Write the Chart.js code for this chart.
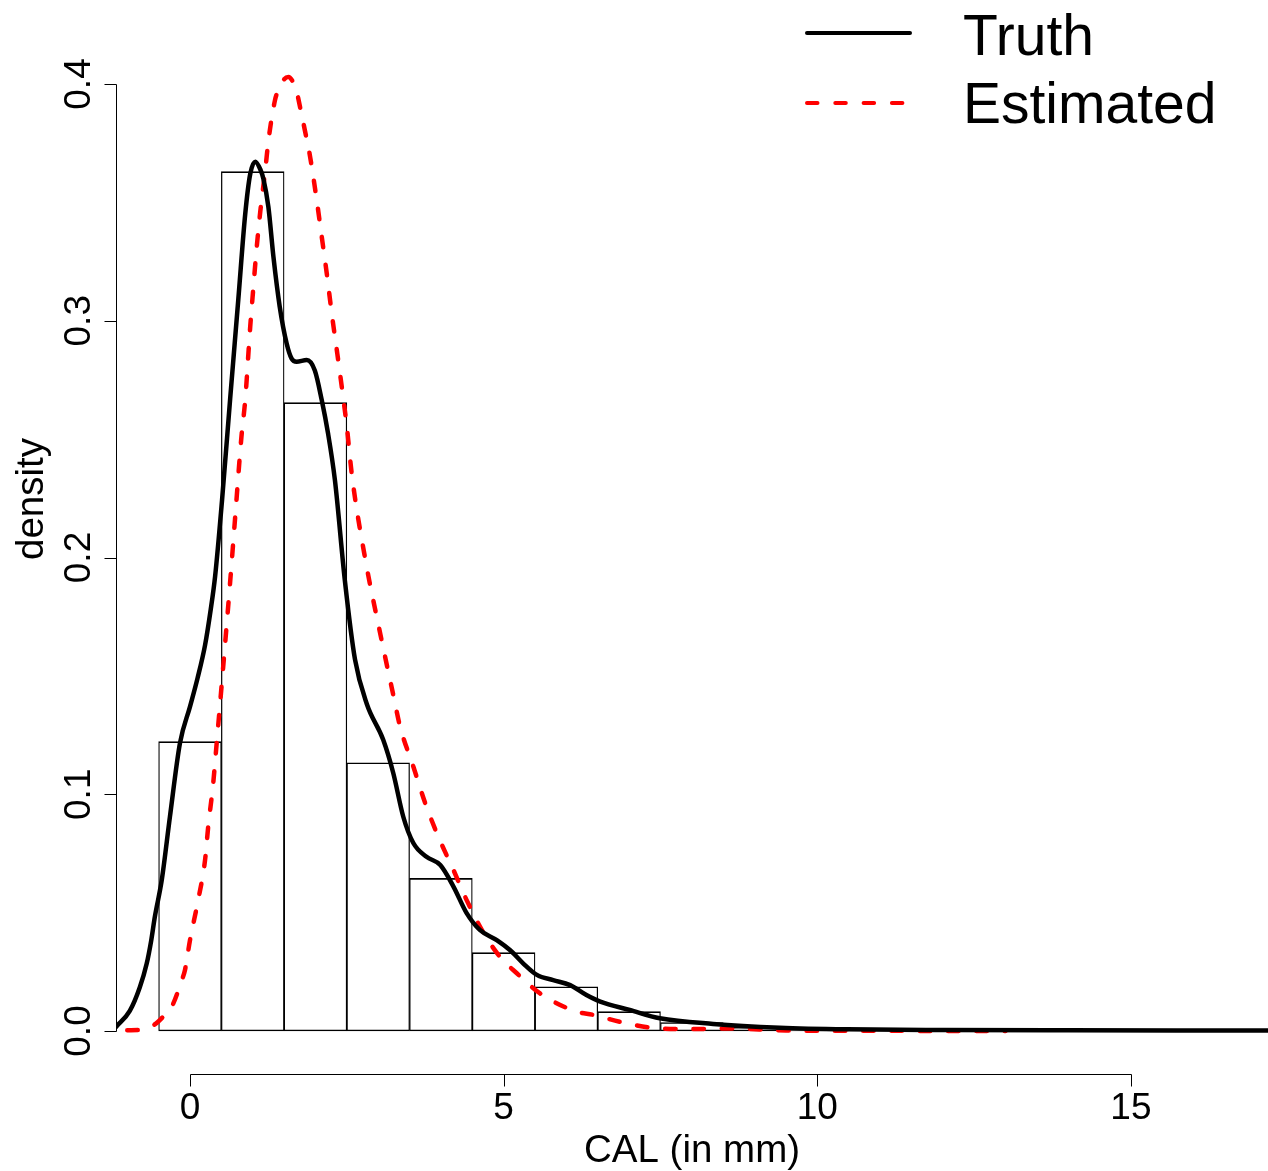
<!DOCTYPE html>
<html><head><meta charset="utf-8">
<script src="https://cdn.jsdelivr.net/npm/chart.js@4"></script>
<style>html,body{margin:0;padding:0;background:#fff;} canvas{display:block;}</style>
</head><body>
<canvas id="c" width="1268" height="1171" style="width:1268px;height:1171px"></canvas>
<script>
// ---- data ----
const binCenters = [0, 1, 2, 3, 4, 5, 6, 7, 8, 9, 10];
const binDensity = [0.1222, 0.3630, 0.2654, 0.1133, 0.0645, 0.0331, 0.0187, 0.0082, 0.0036, 0.0016, 0.0007];

const truthX = [-1.18, -0.96, -0.80, -0.69, -0.62, -0.56, -0.45, -0.32, -0.16, 0.00, 0.12, 0.24, 0.33, 0.40, 0.51, 0.64, 0.77, 0.88, 0.96, 1.04, 1.12, 1.17, 1.25, 1.33, 1.43, 1.54, 1.62, 1.70, 1.86, 1.99, 2.10, 2.20, 2.31, 2.47, 2.63, 2.82, 3.08, 3.24, 3.40, 3.56, 3.77, 3.99, 4.20, 4.41, 4.62, 4.89, 5.10, 5.31, 5.53, 5.79, 6.06, 6.32, 6.54, 7.01, 7.49, 8.34, 9.40, 10.47, 12.0, 14.0, 17.2];
const truthY = [0.0017, 0.0085, 0.0185, 0.0285, 0.038, 0.0483, 0.0638, 0.0905, 0.1216, 0.137, 0.149, 0.163, 0.178, 0.192, 0.224, 0.267, 0.309, 0.345, 0.362, 0.3672, 0.364, 0.360, 0.348, 0.327, 0.306, 0.2905, 0.284, 0.2827, 0.2834, 0.279, 0.2665, 0.2525, 0.2327, 0.190, 0.157, 0.138, 0.123, 0.109, 0.0905, 0.0794, 0.0736, 0.0701, 0.061, 0.0498, 0.0427, 0.0384, 0.0342, 0.0286, 0.0237, 0.0215, 0.0194, 0.0152, 0.0124, 0.0089, 0.0054, 0.0030, 0.0014, 0.0007, 0.0004, 0.0003, 0.0002];

const estX = [-1.0, -0.75, -0.55, -0.43, -0.29, -0.13, -0.08, 0.00, 0.13, 0.24, 0.29, 0.37, 0.425, 0.48, 0.558, 0.638, 0.717, 0.82, 0.88, 0.96, 1.01, 1.06, 1.12, 1.20, 1.25, 1.355, 1.41, 1.50, 1.57, 1.64, 1.70, 1.78, 1.83, 1.91, 2.02, 2.10, 2.18, 2.26, 2.34, 2.42, 2.50, 2.58, 2.81, 3.00, 3.24, 3.35, 3.56, 3.75, 3.96, 4.20, 4.41, 4.68, 4.94, 5.21, 5.58, 6.16, 6.43, 6.85, 7.38, 7.97, 8.6, 9.5, 10.5, 13.0];
const estY = [0.0003, 0.0006, 0.003, 0.006, 0.0103, 0.0215, 0.0258, 0.0384, 0.0553, 0.0722, 0.0863, 0.1046, 0.1215, 0.1384, 0.163, 0.189, 0.216, 0.251, 0.2665, 0.2975, 0.314, 0.330, 0.346, 0.3637, 0.376, 0.3932, 0.3975, 0.402, 0.403, 0.401, 0.3968, 0.387, 0.3806, 0.370, 0.351, 0.3355, 0.320, 0.303, 0.2877, 0.272, 0.2553, 0.235, 0.197, 0.172, 0.142, 0.1285, 0.1117, 0.0962, 0.082, 0.068, 0.0553, 0.0414, 0.0314, 0.0244, 0.0159, 0.0082, 0.0068, 0.0039, 0.0013, 0.0008, 0.0011, 0.0002, 0.0001, 0.0];

const xTicks = [0, 5, 10, 15];
const xTickLabels = ['0', '5', '10', '15'];
const yTicks = [0, 0.1, 0.2, 0.3, 0.4];
const yTickLabels = ['0.0', '0.1', '0.2', '0.3', '0.4'];
const xTitle = 'CAL (in mm)';
const yTitle = 'density';
const seriesLabels = ['Truth', 'Estimated'];

// ---- R-style axes + legend ----
const FONT = '"Liberation Sans", Arial, Helvetica, sans-serif';
const rAxes = {
  id: 'rAxes',
  afterDraw(chart) {
    const {ctx, chartArea, scales: {x, y}} = chart;
    ctx.save();
    ctx.strokeStyle = '#000';
    ctx.lineWidth = 1;
    ctx.fillStyle = '#000';
    // y axis
    const ax = Math.round(chartArea.left) + 0.5;
    ctx.beginPath();
    ctx.moveTo(ax, Math.round(y.getPixelForValue(yTicks[0])) + 0.5);
    ctx.lineTo(ax, Math.round(y.getPixelForValue(yTicks[yTicks.length - 1])) + 0.5);
    yTicks.forEach(v => {
      const p = Math.round(y.getPixelForValue(v)) + 0.5;
      ctx.moveTo(ax, p); ctx.lineTo(ax - 12, p);
    });
    ctx.stroke();
    ctx.font = '37px ' + FONT;
    ctx.textAlign = 'center';
    ctx.textBaseline = 'alphabetic';
    yTicks.forEach((v, i) => {
      const p = y.getPixelForValue(v);
      ctx.save();
      ctx.translate(89.5, p);
      ctx.rotate(-Math.PI / 2);
      ctx.fillText(yTickLabels[i], 0, 0);
      ctx.restore();
    });
    // x axis
    const ay = Math.round(chartArea.bottom) + 0.5;
    ctx.beginPath();
    ctx.moveTo(Math.round(x.getPixelForValue(xTicks[0])) + 0.5, ay);
    ctx.lineTo(Math.round(x.getPixelForValue(xTicks[xTicks.length - 1])) + 0.5, ay);
    xTicks.forEach(v => {
      const p = Math.round(x.getPixelForValue(v)) + 0.5;
      ctx.moveTo(p, ay); ctx.lineTo(p, ay + 12);
    });
    ctx.stroke();
    xTicks.forEach((v, i) => {
      ctx.fillText(xTickLabels[i], x.getPixelForValue(v), 1119);
    });
    // titles
    ctx.font = '38.5px ' + FONT;
    ctx.fillText(xTitle, (chartArea.left + chartArea.right) / 2, 1162);
    ctx.save();
    ctx.translate(43, 499);
    ctx.rotate(-Math.PI / 2);
    ctx.fillText(yTitle, 0, 0);
    ctx.restore();
    // legend
    const ds = chart.data.datasets;
    const rows = [33, 103];
    const base = [55, 123];
    ctx.font = '57px ' + FONT;
    ctx.textAlign = 'left';
    [0, 1].forEach(i => {
      const d = ds[i];
      ctx.save();
      ctx.strokeStyle = d.borderColor;
      ctx.lineWidth = 4;
      ctx.lineCap = 'round';
      ctx.setLineDash(d.borderDash || []);
      ctx.beginPath();
      ctx.moveTo(807, rows[i]);
      ctx.lineTo(910, rows[i]);
      ctx.stroke();
      ctx.restore();
      ctx.fillText(d.label, 963, base[i]);
    });
    ctx.restore();
  }
};

const pts = (xs, ys) => xs.map((v, i) => ({x: v, y: ys[i]}));

new Chart(document.getElementById('c'), {
  type: 'line',
  data: {
    datasets: [
      {type: 'line', label: seriesLabels[0], data: pts(truthX, truthY), borderColor: '#000000', borderWidth: 4.5,
       pointRadius: 0, cubicInterpolationMode: 'monotone', borderCapStyle: 'round', borderJoinStyle: 'round', fill: false, order: 1},
      {type: 'line', label: seriesLabels[1], data: pts(estX, estY), borderColor: '#ff0000', borderWidth: 4.5,
       borderDash: [10.5, 17.8], pointRadius: 0, cubicInterpolationMode: 'monotone', borderCapStyle: 'round', borderJoinStyle: 'round', fill: false, order: 2},
      {type: 'bar', label: 'hist', data: pts(binCenters, binDensity), backgroundColor: 'rgba(0,0,0,0)', borderColor: '#000000',
       borderWidth: {top: 1, bottom: 1, left: 0.6, right: 0.6}, borderSkipped: false, categoryPercentage: 1, barPercentage: 1, grouped: false, order: 3}
    ]
  },
  options: {
    responsive: false, animation: false, devicePixelRatio: 1,
    layout: {padding: {left: 116, right: 0, top: 40, bottom: 97}},
    plugins: {legend: {display: false}, tooltip: {enabled: false}},
    scales: {
      x: {type: 'linear', min: -1.1797, max: 17.185, display: false, offset: false, ticks: {includeBounds: false}},
      y: {type: 'linear', min: -0.01816, max: 0.41859, display: false}
    }
  },
  plugins: [rAxes]
});
</script>
</body></html>
